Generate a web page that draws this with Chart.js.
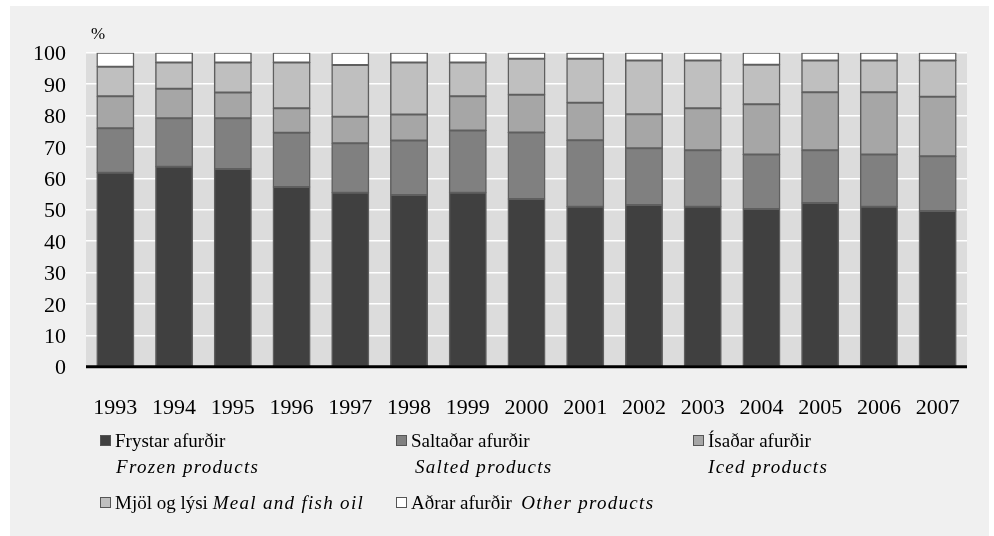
<!DOCTYPE html>
<html>
<head>
<meta charset="utf-8">
<script src="https://cdn.jsdelivr.net/npm/chart.js@4"></script>
<style>
  html, body { margin:0; padding:0; background:#fff; }
  #wrap { position:relative; width:994px; height:536px; }
  #chartBars { position:absolute; left:0; top:0; }
  .lbl { position:absolute; font-family:"Liberation Serif","Times New Roman",serif; font-size:19px; color:#000; white-space:nowrap; line-height:22px; }
  .it { font-style:italic; letter-spacing:1.3px; }
  .sq { display:inline-block; width:9px; height:9px; border:1px solid #555; margin-right:4px; vertical-align:1px; }
  #pct { position:absolute; left:91px; top:24px; font-family:"Liberation Serif",serif; font-size:17px; }
</style>
</head>
<body>
<div id="wrap">
  <canvas id="chartBars" width="994" height="536"></canvas>
  <div id="pct">%</div>
  <div class="lbl" style="left:100px;top:430px"><span class="sq" style="background:#404040"></span>Frystar afurðir</div>
  <div class="lbl it" style="left:116px;top:456px">Frozen products</div>
  <div class="lbl" style="left:396px;top:430px"><span class="sq" style="background:#808080"></span>Saltaðar afurðir</div>
  <div class="lbl it" style="left:415px;top:456px">Salted products</div>
  <div class="lbl" style="left:693px;top:430px"><span class="sq" style="background:#a6a6a6"></span>Ísaðar afurðir</div>
  <div class="lbl it" style="left:708px;top:456px">Iced products</div>
  <div class="lbl" style="left:100px;top:492px"><span class="sq" style="background:#bfbfbf"></span>Mjöl og lýsi <span class="it">Meal and fish oil</span></div>
  <div class="lbl" style="left:396px;top:492px"><span class="sq" style="background:#fff"></span>Aðrar afurðir&nbsp; <span class="it">Other products</span></div>
</div>
<script>
//categories and series (% of export value)
const years=['1993','1994','1995','1996','1997','1998','1999','2000','2001','2002','2003','2004','2005','2006','2007'];
const frozen=[61.8,63.7,63.0,57.2,55.4,54.7,55.4,53.4,50.9,51.5,50.9,50.2,52.1,50.9,49.6];
const salted=[14.1,15.4,16.1,17.3,15.8,17.3,19.8,21.2,21.2,18.1,18.0,17.4,16.8,16.7,17.4];
const iced=[10.2,9.4,8.2,7.8,8.4,8.3,10.9,12.0,12.0,10.8,13.4,16.0,18.5,19.8,19.0];
const meal=[9.4,8.4,9.6,14.6,16.5,16.6,10.8,11.5,14.0,17.1,15.2,12.6,10.1,10.1,11.5];
const other=[4.5,3.1,3.1,3.1,3.9,3.1,3.1,1.9,1.9,2.5,2.5,3.8,2.5,2.5,2.5];
const yTicks=[0,10,20,30,40,50,60,70,80,90,100];

const serif='"Liberation Serif","Times New Roman",serif';

//background panel + grey plot area, black zero line on top of bars
const bgPlugin={
  id:'bg',
  beforeDraw(chart){
    const c=chart.ctx, a=chart.chartArea;
    c.save();
    c.fillStyle='#f0f0f0';
    c.fillRect(10,6,979,530);
    c.fillStyle='#dcdcdc';
    c.fillRect(a.left,a.top,a.right-a.left,a.bottom-a.top);
    c.restore();
  },
  afterDatasetsDraw(chart){
    const c=chart.ctx, a=chart.chartArea;
    const y0=chart.scales.y.getPixelForValue(0);
    c.save();
    c.strokeStyle='#000';
    c.lineWidth=3;
    c.beginPath();
    c.moveTo(a.left,y0);
    c.lineTo(a.right,y0);
    c.stroke();
    c.restore();
  }
};

function ds(label,data,color){
  return {label:label,data:data,backgroundColor:color,borderColor:'#5f5f5f',borderWidth:1.5,borderSkipped:false,
    inflateAmount:0.5,barPercentage:0.63,categoryPercentage:1};
}

let chartBars=new Chart(document.getElementById('chartBars'),{
  type:'bar',
  data:{
    labels:years,
    datasets:[
      ds('Frystar afurðir',frozen,'#404040'),
      ds('Saltaðar afurðir',salted,'#808080'),
      ds('Ísaðar afurðir',iced,'#a6a6a6'),
      ds('Mjöl og lýsi',meal,'#bfbfbf'),
      ds('Aðrar afurðir',other,'#ffffff')
    ]
  },
  options:{
    responsive:false,
    animation:false,
    layout:{padding:{left:0,right:27,top:52.7,bottom:119.3}},
    plugins:{legend:{display:false},tooltip:{enabled:false}},
    scales:{
      x:{
        stacked:true,
        grid:{display:false},
        border:{display:false},
        ticks:{color:'#000',font:{family:serif,size:22},padding:20,maxRotation:0},
        afterFit(s){s.height=50;}
      },
      y:{
        stacked:true,
        min:0,max:100,
        afterBuildTicks(s){s.ticks=yTicks.map(v=>({value:v}));},
        grid:{color:c=>c.tick&&c.tick.value===0?'rgba(0,0,0,0)':'#ffffff',lineWidth:1.5,drawTicks:false},
        border:{display:false},
        ticks:{color:'#000',font:{family:serif,size:22},padding:20,labelOffset:2},
        afterFit(s){s.width=86;}
      }
    }
  },
  plugins:[bgPlugin]
});
</script>
</body>
</html>
